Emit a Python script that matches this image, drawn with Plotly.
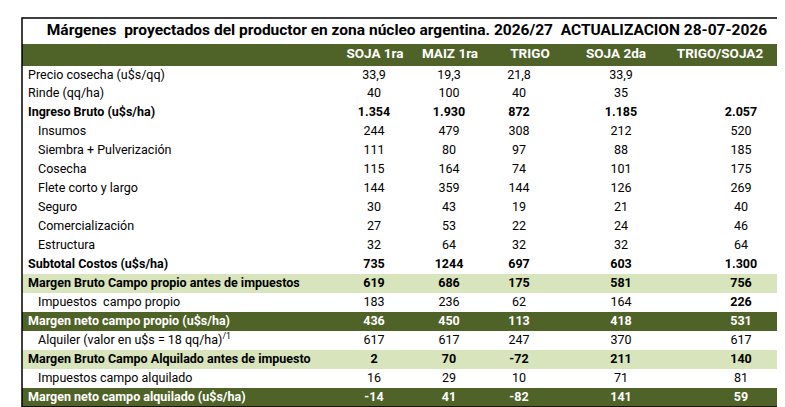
import plotly.graph_objects as go

title = "Márgenes  proyectados del productor en zona núcleo argentina. 2026/27  ACTUALIZACION 28-07-2026"
columns = ["SOJA 1ra", "MAIZ 1ra", "TRIGO", "SOJA 2da", "TRIGO/SOJA2"]
labels = ["Precio cosecha (u$s/qq)", "Rinde (qq/ha)", "Ingreso Bruto (u$s/ha)",
          "Insumos", "Siembra + Pulverización", "Cosecha", "Flete corto y largo",
          "Seguro", "Comercialización", "Estructura", "Subtotal Costos (u$s/ha)",
          "Margen Bruto Campo propio antes de impuestos", "Impuestos  campo propio",
          "Margen neto campo propio (u$s/ha)", "Alquiler (valor en u$s = 18 qq/ha)<sup>/1</sup>",
          "Margen Bruto Campo Alquilado antes de impuesto", "Impuestos campo alquilado",
          "Margen neto campo alquilado (u$s/ha)"]
soja1 = ["33,9", "40", "1.354", "244", "111", "115", "144", "30", "27", "32", "735", "619", "183", "436", "617", "2", "16", "-14"]
maiz1 = ["19,3", "100", "1.930", "479", "80", "164", "359", "43", "53", "64", "1244", "686", "236", "450", "617", "70", "29", "41"]
trigo = ["21,8", "40", "872", "308", "97", "74", "144", "19", "22", "32", "697", "175", "62", "113", "247", "-72", "10", "-82"]
soja2 = ["33,9", "35", "1.185", "212", "88", "101", "126", "21", "24", "32", "603", "581", "164", "418", "370", "211", "71", "141"]
trigo_soja2 = ["", "", "2.057", "520", "185", "175", "269", "40", "46", "64", "1.300", "756", "226", "531", "617", "140", "81", "59"]

value_cols = [soja1, maiz1, trigo, soja2, trigo_soja2]
bold = {2, 10, 11, 13, 15, 17}
indent = {3, 4, 5, 6, 7, 8, 9, 12, 14, 16}
light = {11, 15}
dark = {13, 17}
DARK = "#4f6228"
LIGHT = "#d8e4bc"
FONT = "Roboto"

W = 764
col_x = [352, 427, 497, 599, 719]
head_x = [353, 428, 508, 594, 698]
HEAD_H = 1.16
TITLE_H = 1.37
n = len(labels)
rows = list(range(n))
head_y = -0.5 - HEAD_H / 2
title_y = -0.5 - HEAD_H - TITLE_H / 2

fig = go.Figure()
for group, color in ((light, LIGHT), (dark, DARK)):
    ys = [i for i in rows if i in group]
    fig.add_trace(go.Bar(y=ys, x=[W] * len(ys), base=0, orientation="h", width=1.0,
                         marker=dict(color=color, line=dict(width=0)), hoverinfo="skip"))
fig.add_trace(go.Bar(y=[head_y], x=[W], base=0, orientation="h", width=HEAD_H,
                     marker=dict(color=DARK, line=dict(width=0)), hoverinfo="skip"))

def tcolor(i):
    return "white" if i in dark else "black"

lab_txt = [f"<b>{l}</b>" if i in bold else l for i, l in enumerate(labels)]
lab_x = [16 if i in indent else 6 for i in rows]
fig.add_trace(go.Scatter(x=lab_x, y=rows, mode="text", text=lab_txt, textposition="middle right",
                         textfont=dict(size=12.5, family=FONT, color=[tcolor(i) for i in rows]),
                         hoverinfo="skip", cliponaxis=False))
for j, vals in enumerate(value_cols):
    txt = [f"<b>{v}</b>" if (i in bold or (j == 4 and i == 12)) and v else v for i, v in enumerate(vals)]
    fig.add_trace(go.Scatter(x=[col_x[j]] * n, y=rows, mode="text", text=txt, textposition="middle center",
                             textfont=dict(size=12.5, family=FONT, color=[tcolor(i) for i in rows]),
                             hoverinfo="skip", cliponaxis=False))
fig.add_trace(go.Scatter(x=head_x, y=[head_y] * len(columns), mode="text",
                         text=[f"<b>{c}</b>" for c in columns], textposition="middle center",
                         textfont=dict(size=13.5, family=FONT, color="white"), hoverinfo="skip",
                         cliponaxis=False))
fig.add_trace(go.Scatter(x=[385], y=[title_y], mode="text", text=[f"<b>{title}</b>"],
                         textposition="middle center",
                         textfont=dict(size=15.5, family=FONT, color="black"), hoverinfo="skip",
                         cliponaxis=False))

fig.update_layout(
    width=785, height=407, margin=dict(l=14, r=7, t=10, b=8), paper_bgcolor="white",
    plot_bgcolor="white", showlegend=False, barmode="overlay", bargap=0,
    xaxis=dict(range=[0, W], visible=False, fixedrange=True),
    yaxis=dict(range=[n - 0.5, -0.5 - HEAD_H - TITLE_H], visible=False, fixedrange=True),
    shapes=[dict(type="rect", xref="paper", yref="paper", x0=0, x1=1, y0=0, y1=1,
                 line=dict(color="black", width=1.5))],
)
fig.write_html("out.html")
